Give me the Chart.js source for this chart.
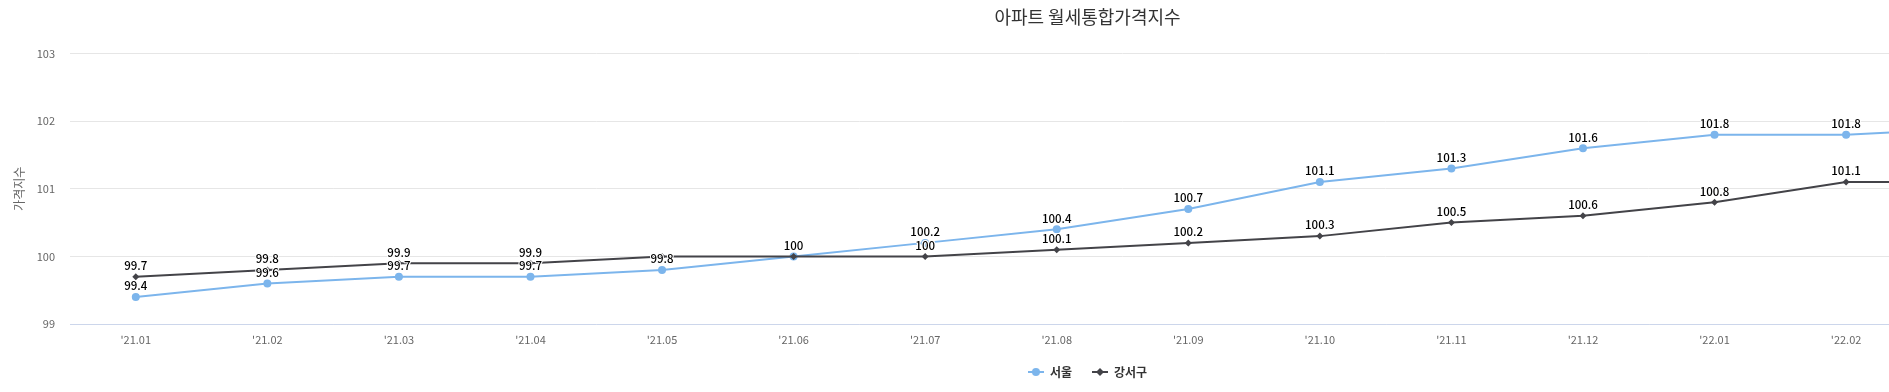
<!DOCTYPE html>
<html>
<head>
<meta charset="utf-8">
<script src="https://cdn.jsdelivr.net/npm/chart.js@4"></script>
<style>
  html, body { margin: 0; padding: 0; background: #fff; overflow: hidden; }
  #wrap { width: 2184px; height: 392px; position: relative; }
</style>
</head>
<body>
<div id="wrap"><canvas id="chart"></canvas></div>
<script>
// ================================
// DATA
// ================================
const months = ["'21.01", "'21.02", "'21.03", "'21.04", "'21.05", "'21.06", "'21.07", "'21.08",
                "'21.09", "'21.10", "'21.11", "'21.12", "'22.01", "'22.02", "'22.03", "'22.04"];
const seoul   = [99.4, 99.6, 99.7, 99.7, 99.8, 100, 100.2, 100.4, 100.7, 101.1, 101.3, 101.6, 101.8, 101.8, 101.9, null];
const gangseo = [99.7, 99.8, 99.9, 99.9, 100, 100, 100, 100.1, 100.2, 100.3, 100.5, 100.6, 100.8, 101.1, 101.1, null];
const yTicks  = [99, 100, 101, 102, 103];

// labels that the original chart hides because they overlap
const hiddenLabels = { 0: [5], 1: [4] };

const FONT = '"Noto Sans CJK KR", "Noto Sans", sans-serif';
const SEOUL_COLOR = "#7cb5ec";
const GANGSEO_COLOR = "#434348";

// ================================
// LEGEND ICONS (line + marker)
// ================================
function legendIcon(color, shape) {
    const c = document.createElement("canvas");
    c.width = 16; c.height = 10;
    const g = c.getContext("2d");
    g.strokeStyle = color;
    g.lineWidth = 2;
    g.beginPath(); g.moveTo(0, 5); g.lineTo(16, 5); g.stroke();
    g.fillStyle = color;
    g.beginPath();
    if (shape === "circle") {
        g.arc(8, 5, 4, 0, Math.PI * 2);
    } else {
        g.moveTo(8, 1); g.lineTo(12, 5); g.lineTo(8, 9); g.lineTo(4, 5); g.closePath();
    }
    g.fill();
    return c;
}

// ================================
// VALUE LABELS ABOVE POINTS
// ================================
const valueLabels = {
    id: "valueLabels",
    afterDatasetsDraw(chart) {
        const ctx = chart.ctx;
        ctx.save();
        ctx.font = "500 11.5px " + FONT;
        ctx.textAlign = "center";
        ctx.textBaseline = "middle";
        ctx.lineJoin = "round";
        chart.data.datasets.forEach((ds, di) => {
            const meta = chart.getDatasetMeta(di);
            meta.data.forEach((pt, i) => {
                const v = ds.data[i];
                if (v === null || (hiddenLabels[di] || []).includes(i)) return;
                const txt = String(v);
                ctx.strokeStyle = "#fff";
                ctx.lineWidth = 2;
                ctx.strokeText(txt, pt.x, pt.y - 11);
                ctx.fillStyle = "#000";
                ctx.fillText(txt, pt.x, pt.y - 11);
            });
        });
        ctx.restore();
    }
};

// ================================
// CHART
// ================================
const ctx = document.getElementById("chart").getContext("2d");

new Chart(ctx, {
    type: "line",
    data: {
        labels: months,
        datasets: [
            {
                label: "서울",
                data: seoul,
                borderColor: SEOUL_COLOR,
                backgroundColor: SEOUL_COLOR,
                borderWidth: 2,
                pointStyle: "circle",
                pointRadius: 4,
                pointBorderWidth: 0,
                tension: 0,
                order: 1
            },
            {
                label: "강서구",
                data: gangseo,
                borderColor: GANGSEO_COLOR,
                backgroundColor: GANGSEO_COLOR,
                borderWidth: 2,
                pointStyle: "rectRot",
                pointRadius: 3.5,
                pointBorderWidth: 0,
                tension: 0,
                order: 0
            }
        ]
    },
    options: {
        responsive: true,
        maintainAspectRatio: false,
        animation: false,
        layout: { padding: { left: 0, right: 9, top: 0, bottom: 4 } },
        plugins: {
            title: {
                display: true,
                text: "아파트 월세통합가격지수",
                color: "#333333",
                font: { family: FONT, size: 18, weight: "normal" },
                padding: { top: 6, bottom: 26 }
            },
            legend: {
                position: "bottom",
                labels: {
                    font: { family: FONT, size: 12, weight: "bold" },
                    color: "#333333",
                    usePointStyle: true,
                    pointStyleWidth: 16,
                    padding: 20,
                    generateLabels(chart) {
                        return chart.data.datasets.map((ds, i) => ({
                            text: ds.label,
                            datasetIndex: i,
                            fontColor: "#333333",
                            pointStyle: legendIcon(ds.borderColor, i === 0 ? "circle" : "diamond"),
                            hidden: false,
                            lineWidth: 0
                        }));
                    }
                }
            },
            tooltip: { enabled: false }
        },
        scales: {
            x: {
                offset: true,
                grid: { display: false, drawTicks: false },
                border: { color: "#ccd6eb", width: 1 },
                afterFit(axis) { axis.height = 22; },
                ticks: {
                    color: "#666666",
                    font: { family: FONT, size: 11 },
                    padding: 9,
                    maxRotation: 0,
                    autoSkip: false
                }
            },
            y: {
                min: 99,
                max: 103,
                afterBuildTicks(axis) {
                    axis.ticks = yTicks.map(v => ({ value: v }));
                },
                afterFit(axis) { axis.width = 70; },
                grid: { color: "#e6e6e6", drawTicks: false },
                border: { display: false },
                ticks: {
                    color: "#666666",
                    font: { family: FONT, size: 11 },
                    padding: 15
                },
                title: {
                    display: true,
                    text: "가격지수",
                    color: "#666666",
                    font: { family: FONT, size: 12 },
                    padding: { top: 12, bottom: 0 }
                }
            }
        }
    },
    plugins: [valueLabels]
});
</script>
</body>
</html>
